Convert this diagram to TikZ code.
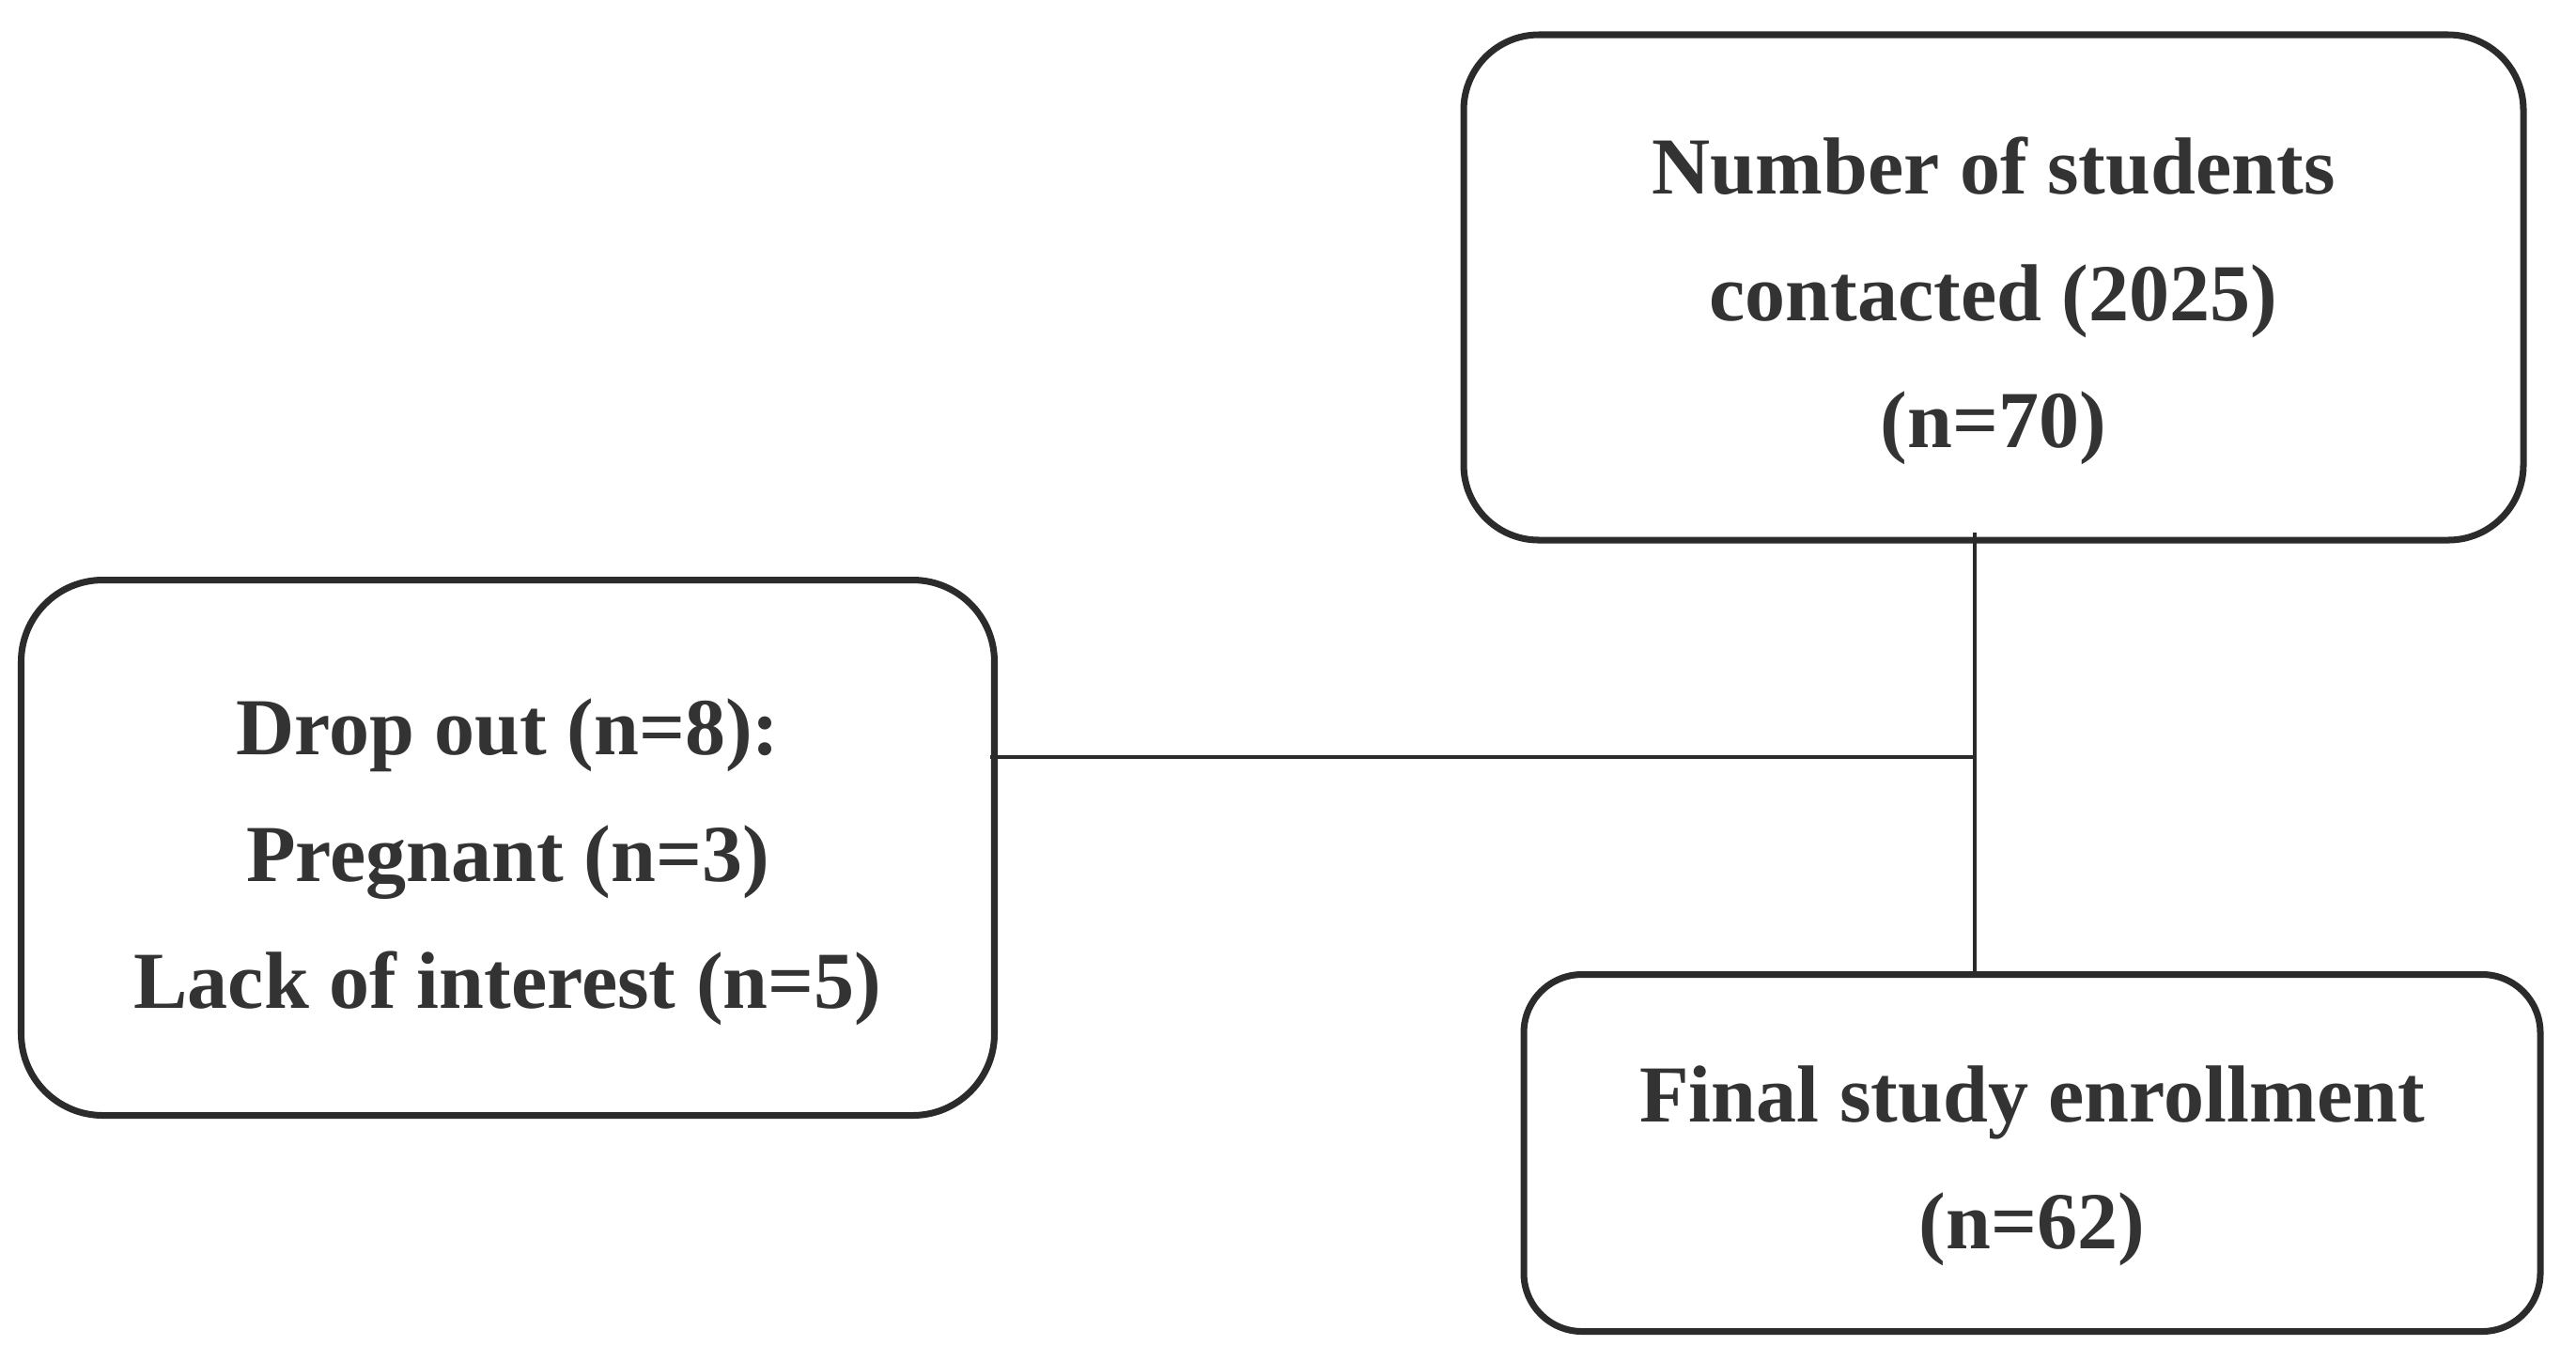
\documentclass[tikz,border=0pt]{standalone}
\usepackage{fontspec}
\setmainfont{Liberation Serif}
\usepackage{xcolor}
\usetikzlibrary{calc}
\definecolor{boxline}{HTML}{2B2B2B}
\definecolor{boxtext}{HTML}{333333}

\begin{document}
\begin{tikzpicture}[line join=round,
  flowbox/.style={draw=boxline,line width=2pt,rounded corners=0.8cm,inner sep=0pt},
  boxlabel/.style={align=center,inner sep=0pt,text=boxtext,
    font=\fontsize{24.5}{38.4}\selectfont\bfseries},
  link/.style={draw=boxline,line width=1.2pt}]
  \useasboundingbox (0,0) rectangle (27.42,-14.48);
  % boxes
  \node[flowbox,minimum width=11.28cm,minimum height=5.38cm] (contacted) at (21.22,-3.06) {};
  \node[flowbox,minimum width=10.36cm,minimum height=5.70cm,rounded corners=0.87cm] (dropout) at (5.405,-9.025) {};
  \node[flowbox,minimum width=10.82cm,minimum height=3.80cm,rounded corners=0.62cm] (enrolled) at (21.63,-12.275) {};
  % texts
  \node[boxlabel] (contactedtext) at ([yshift=-0.14cm]contacted.center)
    {Number of students\\contacted (2025)\\(n=70)};
  \node[boxlabel] (dropouttext) at ([yshift=-0.15cm]dropout.center)
    {Drop out (n=8):\\Pregnant (n=3)\\Lack of interest (n=5)};
  \node[boxlabel] (enrolledtext) at ([yshift=-0.14cm]enrolled.center)
    {Final study enrollment\\(n=62)};
  % connectors
  \coordinate (J) at (21.02,-8.06);
  \draw[link] ($(J |- contacted.south)+(0,0.12)$) -- (J |- enrolled.north);
  \draw[link] ($(dropout.east |- J)+(-0.08,0)$) -- (J);
\end{tikzpicture}
\end{document}
